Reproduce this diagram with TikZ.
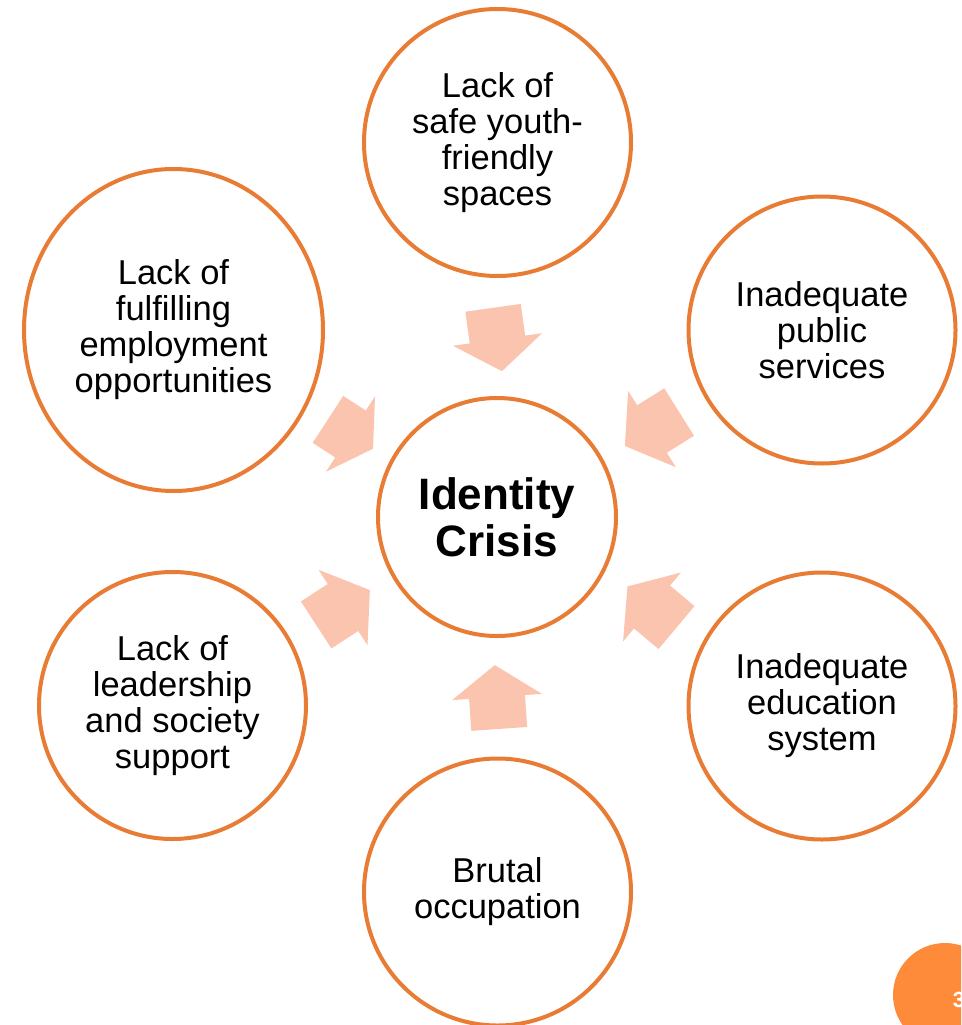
\documentclass[tikz,border=0pt]{standalone}
\usepackage{fontspec}
\setmainfont{Liberation Sans}
\usetikzlibrary{shapes.geometric}

\definecolor{ringorange}{HTML}{E97C34}
\definecolor{arrowpeach}{HTML}{FBC4AF}
\definecolor{pageorange}{HTML}{FD8B3A}

\tikzset{
  cause/.style={circle, draw=ringorange, line width=4pt, fill=white,
    minimum size=267pt, inner sep=0pt, align=center,
    font=\fontsize{34.5}{36}\selectfont},
  core/.style={cause, minimum size=238pt,
    font=\fontsize{44}{47}\selectfont\bfseries},
  pics/blockarrow/.style={code={
    \fill[arrowpeach] (-32,-28) -- (0,-28) -- (0,-45) -- (32,0)
      -- (0,45) -- (0,28) -- (-32,28) -- cycle;}}
}

\begin{document}
\begin{tikzpicture}[x=1pt, y=-1pt]
  \useasboundingbox (0,0) rectangle (961,1025);
  \clip (0,0) rectangle (961,1025);

  \node[core] (crisis) at (497,517) {Identity\\Crisis};

  \node[cause] (spaces) at (497.5,142.5) {Lack of\\safe youth-\\friendly\\spaces};
  \node[cause] (public) at (822,330) {Inadequate\\public\\services};
  \node[cause] (school) at (822,706) {Inadequate\\education\\system};
  \node[cause] (occupy) at (497.5,892) {Brutal\\occupation};
  \node[cause] (leader) at (172.5,705.5) {Lack of\\leadership\\and society\\support};
  \node[cause, ellipse, minimum width=299pt, minimum height=322pt] (employ)
    at (173.5,330) {Lack of\\fulfilling\\employment\\opportunities};

  \pic[rotate=-82] at (497.5,339.5) {blockarrow};
  \pic[rotate=-148] at (652,429) {blockarrow};
  \pic[rotate=140] at (652,607) {blockarrow};
  \pic[rotate=94] at (497,697) {blockarrow};
  \pic[rotate=33] at (343,607.5) {blockarrow};
  \pic[rotate=-33, xscale=0.84] at (350.5,434) {blockarrow};

  \fill[pageorange] (945,995) circle (52);
  \node[text=white, font=\fontsize{22}{24}\selectfont\bfseries, inner sep=0pt]
    (pagenum) at (959,1000) {3};
\end{tikzpicture}
\end{document}
